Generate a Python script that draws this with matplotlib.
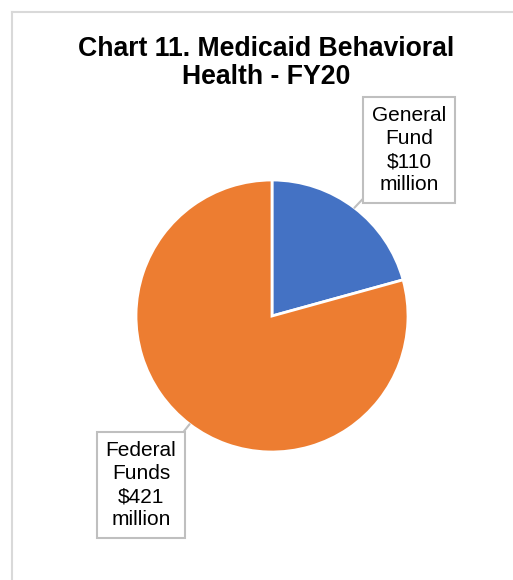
import numpy as np
import matplotlib
matplotlib.use("Agg")
import matplotlib.pyplot as plt
from matplotlib.lines import Line2D

# Medicaid behavioral health funding, FY20 ($ millions)
sources = ["General Fund", "Federal Funds"]
amounts = [110, 421]
colors = ["#4472C4", "#ED7D31"]
label_text = ["General\nFund\n$110\nmillion", "Federal\nFunds\n$421\nmillion"]
# label box centres in figure pixels
label_pos = [(409, 430), (141, 95)]

W, H = 513, 580
fig = plt.figure(figsize=(W / 100, H / 100), dpi=100)
plt.rcParams["font.family"] = ["Liberation Sans", "DejaVu Sans"]

# chart frame (top and left edges visible)
fig.add_artist(Line2D([12 / W, 12 / W], [0, (H - 12) / H], transform=fig.transFigure,
                      color="#D9D9D9", lw=1.5))
fig.add_artist(Line2D([12 / W, 1], [(H - 12) / H, (H - 12) / H], transform=fig.transFigure,
                      color="#D9D9D9", lw=1.5))

fig.text(266 / W, (H - 63) / H, "Chart 11. Medicaid Behavioral\nHealth - FY20",
         ha="center", va="center", fontsize=19.2, fontweight="bold", linespacing=1.12)

cx, cy, r = 272, 316, 136
ax = fig.add_axes([(cx - r) / W, (H - cy - r) / H, 2 * r / W, 2 * r / H])
wedges, _ = ax.pie(amounts, colors=colors, startangle=90, counterclock=False,
                   wedgeprops=dict(edgecolor="white", linewidth=2))
ax.set_xlim(-1, 1)
ax.set_ylim(-1, 1)
ax.set_aspect("equal")
ax.axis("off")

for w, txt, pos in zip(wedges, label_text, label_pos):
    mid = np.deg2rad((w.theta1 + w.theta2) / 2)
    ax.annotate(txt, xy=(np.cos(mid), np.sin(mid)), xycoords="data",
                xytext=pos, textcoords="figure pixels",
                ha="center", va="center", fontsize=15, linespacing=1.28,
                bbox=dict(boxstyle="square,pad=0.42", fc="white", ec="#BFBFBF", lw=1.5),
                arrowprops=dict(arrowstyle="-", color="#BFBFBF", lw=1.5,
                                shrinkA=0, shrinkB=0),
                annotation_clip=False)

fig.savefig("out.png", dpi=100)
